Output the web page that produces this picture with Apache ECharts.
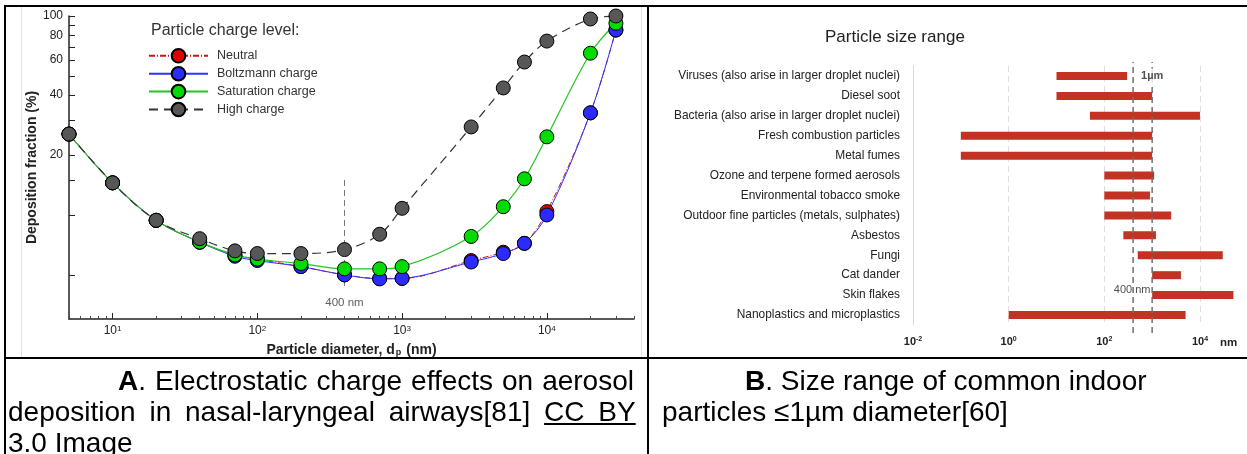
<!DOCTYPE html>
<html lang="en">
<head>
<meta charset="utf-8">
<title>Particle deposition and size range</title>
<script src="https://cdn.jsdelivr.net/npm/echarts@6/dist/echarts.min.js"></script>
<style>
  body { margin: 0; background: #fff; }
  #wrap { position: relative; width: 1247px; height: 454px; overflow: hidden; background: #fff; }
  #chart { position: absolute; left: 0; top: 0; width: 1247px; height: 454px; }
  .rule { position: absolute; background: #000; }
  .edge { position: absolute; background: #e2e2e2; }
  .cap { position: absolute; font-family: 'Liberation Sans', Arial, sans-serif; font-size: 28px;
         line-height: 31px; color: #000; white-space: nowrap; }
</style>
</head>
<body>
<div id="wrap">
  <div id="chart"></div>
  <div class="edge" style="left:21px;top:7px;width:1px;height:350px"></div>
  <div class="edge" style="left:641px;top:7px;width:1px;height:350px"></div>
  <div class="rule" style="left:4px;top:5px;width:1243px;height:2px"></div>
  <div class="rule" style="left:4px;top:5px;width:2px;height:449px"></div>
  <div class="rule" style="left:647px;top:5px;width:2px;height:449px"></div>
  <div class="rule" style="left:4px;top:357px;width:1243px;height:2px"></div>
  <div class="cap" style="left:8px;top:365px;text-indent:110px"><span style="word-spacing:1.2px"><b>A</b>. Electrostatic charge effects on aerosol</span><br><span style="word-spacing:6px">deposition in nasal-laryngeal airways[81] <u>CC BY</u></span><br>3.0 Image</div>
  <div class="cap" style="left:662px;top:365px;text-indent:83px"><b>B</b>. Size range of common indoor<br>particles ≤1µm diameter[60]</div>
</div>
<script type="text/javascript">
// panel A: deposition fraction (%) against particle diameter (nm)
var diam = [5, 10, 20, 40, 70, 100, 200, 400, 700, 1000, 3000, 5000, 7000, 10000, 20000, 30000];
var neutral = [25.5, 14.5, 9.4, 7.3, 6.3, 6.0, 5.5, 5.0, 4.8, 4.8, 5.9, 6.5, 7.2, 10.4, 32.6, 85];
var boltzmann = [25.5, 14.5, 9.4, 7.3, 6.2, 5.9, 5.5, 5.0, 4.77, 4.8, 5.8, 6.4, 7.2, 10.0, 32.6, 85];
var saturation = [25.5, 14.5, 9.4, 7.3, 6.3, 6.0, 5.7, 5.36, 5.36, 5.5, 7.8, 11.0, 15.2, 24.7, 65, 92];
var highCharge = [25.5, 14.5, 9.4, 7.6, 6.6, 6.4, 6.4, 6.7, 8.0, 10.8, 27.7, 43.5, 58.7, 74.8, 96.6, 100];
var decadeTicks = [10, 100, 1000, 10000];
var minorTicksA = [5, 6, 7, 8, 9, 20, 30, 40, 50, 60, 70, 80, 90, 200, 300, 400, 500, 600, 700, 800, 900,
                   2000, 3000, 4000, 5000, 6000, 7000, 8000, 9000, 20000, 30000, 40000];
var yLabelsA = [20, 40, 60, 80, 100];
var yTicksA = [5, 10, 15, 20, 30, 40, 50, 60, 70, 80, 90, 100];
var line400 = [[400, 15], [400, 4.3]];
var label400 = [400, 3.6];

// panel B: size range of indoor particles (nm)
var sources = ['Viruses (also arise in larger droplet nuclei)', 'Diesel soot',
  'Bacteria (also arise in larger droplet nuclei)', 'Fresh combustion particles', 'Metal fumes',
  'Ozone and terpene formed aerosols', 'Environmental tobacco smoke',
  'Outdoor fine particles (metals, sulphates)', 'Asbestos', 'Fungi', 'Cat dander', 'Skin flakes',
  'Nanoplastics and microplastics'];
var sizeMin = [10, 10, 50, 0.1, 0.1, 100, 100, 100, 250, 500, 1000, 1000, 1];
var sizeMax = [300, 1000, 10000, 1000, 1000, 1100, 900, 2500, 1200, 30000, 4000, 50000, 5000];
var tickB = [0.01, 1, 100, 10000];
var refSizes = [400, 1000];

var font = 'Liberation Sans, Arial, sans-serif';
var chart = echarts.init(document.getElementById('chart'));

function pairs(xs, ys) {
  return xs.map(function (x, i) { return [x, ys[i]]; });
}

function powLabel(v) {
  return '10{s|' + Math.round(Math.log10(v)) + '}';
}

function curve(name, vals, color, fill, dash, width) {
  return {
    name: name, type: 'line', xAxisIndex: 0, yAxisIndex: 0,
    data: pairs(diam, vals), smooth: 0.35,
    symbol: 'circle', symbolSize: 14,
    lineStyle: { color: color, width: width, type: dash },
    itemStyle: { color: fill, borderColor: '#000', borderWidth: 1 }
  };
}

function renderRange(params, api) {
  var row = api.value(0);
  var p0 = api.coord([api.value(1), row]);
  var p1 = api.coord([api.value(2), row]);
  return {
    type: 'rect',
    shape: { x: p0[0], y: p0[1] - 4, width: p1[0] - p0[0], height: 8 },
    style: { fill: '#c33222' }
  };
}

var rangeData = sources.map(function (s, i) { return [i, sizeMin[i], sizeMax[i]]; });

var series = [
  curve('Neutral', neutral, '#d01010', '#e00000', [6, 2, 1, 2], 1),
  curve('Boltzmann charge', boltzmann, '#3030ff', '#2b2bff', 'solid', 1),
  curve('Saturation charge', saturation, '#22c422', '#00dc00', 'solid', 1.2),
  curve('High charge', highCharge, '#333333', '#575757', [9, 6], 1.2),
  {
    type: 'line', xAxisIndex: 0, yAxisIndex: 0, data: line400, symbol: 'none', silent: true,
    lineStyle: { color: '#777', width: 1, type: [6, 4] }
  },
  {
    type: 'scatter', xAxisIndex: 0, yAxisIndex: 0, data: [label400], symbolSize: 1,
    itemStyle: { color: 'rgba(0,0,0,0)' }, silent: true,
    label: { show: true, position: 'inside', formatter: '400 nm', fontSize: 11.5, color: '#333', fontFamily: font }
  },
  {
    type: 'custom', xAxisIndex: 2, yAxisIndex: 1, renderItem: renderRange,
    encode: { x: [1, 2], y: 0 }, data: rangeData, z: 2
  },
  {
    type: 'scatter', xAxisIndex: 2, yAxisIndex: 1, symbolSize: 1, z: 6, silent: true,
    itemStyle: { color: 'rgba(0,0,0,0)' },
    data: [
      { value: [1000, 0], label: { formatter: '1µm', fontWeight: 'bold', backgroundColor: '#fff', padding: [2, 1] } },
      { value: [400, 11], label: { formatter: '400 nm', offset: [-1, -5] } }
    ],
    label: { show: true, position: 'inside', fontSize: 11, color: '#222', fontFamily: font }
  }
];

refSizes.forEach(function (s) {
  series.push({
    type: 'line', xAxisIndex: 3, yAxisIndex: 2, data: [[s, 0], [s, 1]], symbol: 'none', silent: true, z: 4,
    lineStyle: { color: '#707070', width: 1.5, type: [6, 4] }
  });
});

var option = {
  animation: false,
  textStyle: { fontFamily: font },
  title: [
    { text: 'Particle charge level:', left: 151, top: 23, padding: 0,
      textStyle: { fontSize: 16, fontWeight: 'normal', color: '#333', fontFamily: font } },
    { text: 'Particle size range', left: 825, top: 29, padding: 0,
      textStyle: { fontSize: 17, fontWeight: 'normal', color: '#222', fontFamily: font } }
  ],
  legend: {
    left: 148, top: 48, orient: 'vertical', padding: 0,
    itemWidth: 59, itemHeight: 17, itemGap: 2.3,
    data: ['Neutral', 'Boltzmann charge', 'Saturation charge', 'High charge'],
    textStyle: { fontSize: 12.5, color: '#333', fontFamily: font, padding: [0, 0, 0, 4] }
  },
  grid: [
    { left: 69, top: 16, width: 565, height: 303 },
    { left: 913, top: 66, width: 322, height: 259 },
    { left: 913, top: 62, width: 322, height: 271 }
  ],
  xAxis: [
    {
      gridIndex: 0, type: 'log', min: 5, max: 40000,
      name: 'Particle diameter, d{sub|p} (nm)', nameLocation: 'middle', nameGap: 24,
      nameTextStyle: {
        fontSize: 14, fontWeight: 'bold', color: '#222', fontFamily: font,
        rich: { sub: { fontSize: 9, fontWeight: 'bold', verticalAlign: 'bottom', padding: [0, 1, 0, 1] } }
      },
      axisLine: { lineStyle: { color: '#222', width: 1.5 } },
      axisTick: { inside: true, length: 6, customValues: decadeTicks, lineStyle: { color: '#222' } },
      axisLabel: {
        customValues: decadeTicks, margin: 6, color: '#222', fontSize: 12, formatter: powLabel,
        rich: { s: { fontSize: 8, verticalAlign: 'top', color: '#222' } }
      },
      splitLine: { show: false }
    },
    {
      gridIndex: 0, type: 'log', min: 5, max: 40000, position: 'bottom',
      axisLine: { show: false },
      axisTick: { inside: true, length: 3, customValues: minorTicksA, lineStyle: { color: '#444' } },
      axisLabel: { show: false }, splitLine: { show: false }
    },
    {
      gridIndex: 1, type: 'log', min: 0.01, max: 54000,
      name: 'nm', nameLocation: 'end', nameGap: -15,
      nameTextStyle: { fontSize: 11.5, fontWeight: 'bold', color: '#222', verticalAlign: 'top', padding: [12, 0, 0, 0] },
      axisLine: { lineStyle: { color: '#333', width: 1.5 } },
      axisTick: { show: false, customValues: tickB },
      axisLabel: {
        customValues: tickB, margin: 11, color: '#222', fontSize: 11, fontWeight: 'bold', formatter: powLabel,
        rich: { s: { fontSize: 7, fontWeight: 'bold', verticalAlign: 'top', color: '#222' } }
      },
      splitLine: { show: true, lineStyle: { color: '#dedede', type: [6, 4], width: 1 } }
    },
    { gridIndex: 2, type: 'log', min: 0.01, max: 54000, show: false }
  ],
  yAxis: [
    {
      gridIndex: 0, type: 'log', min: 3, max: 100,
      name: 'Deposition fraction (%)', nameLocation: 'middle', nameGap: 25,
      nameTextStyle: { fontSize: 14, fontWeight: 'bold', color: '#222', fontFamily: font },
      axisLine: { lineStyle: { color: '#222', width: 1.5 } },
      axisTick: { inside: true, length: 6, customValues: yTicksA, lineStyle: { color: '#222' } },
      axisLabel: { customValues: yLabelsA, margin: 6, color: '#222', fontSize: 12 },
      splitLine: { show: false }
    },
    {
      gridIndex: 1, type: 'category', inverse: true, data: sources,
      axisLine: { lineStyle: { color: '#d8d8d8', width: 1 } },
      axisTick: { show: false },
      axisLabel: { margin: 13, fontSize: 11.9, color: '#222' }
    },
    { gridIndex: 2, type: 'value', min: 0, max: 1, show: false }
  ],
  series: series
};

chart.setOption(option);
</script>
</body>
</html>
